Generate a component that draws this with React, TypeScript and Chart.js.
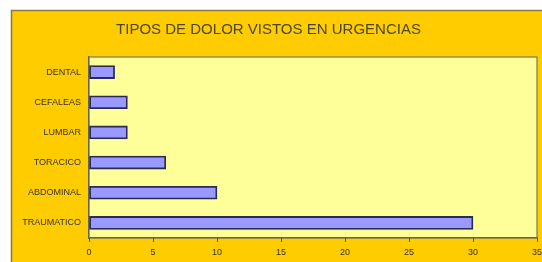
import React, { useEffect, useRef } from "react";
import { Chart, registerables } from "chart.js";

Chart.register(...registerables);

const titleText = "TIPOS DE DOLOR VISTOS EN URGENCIAS";
const categories = ["DENTAL", "CEFALEAS", "LUMBAR", "TORACICO", "ABDOMINAL", "TRAUMATICO"];
const values = [2, 3, 3, 6, 10, 30];
const xMax = 35;
const xStep = 5;

const backgroundPlugin = {
  id: "bgFrame",
  beforeDraw(chart: any) {
    const { ctx, width, height, chartArea } = chart;
    ctx.save();
    ctx.fillStyle = "#ffffff";
    ctx.fillRect(0, 0, width, height);
    ctx.fillStyle = "#FFCC00";
    ctx.fillRect(11, 10, width - 11, height - 10);
    ctx.strokeStyle = "#8a7a40";
    ctx.lineWidth = 1.5;
    ctx.strokeRect(11.5, 10.5, width + 5, height + 5);
    ctx.fillStyle = "#FFFF99";
    ctx.fillRect(chartArea.left, chartArea.top, chartArea.right - chartArea.left, chartArea.bottom - chartArea.top);
    ctx.strokeStyle = "#7a7a5a";
    ctx.lineWidth = 1.2;
    ctx.strokeRect(chartArea.left, chartArea.top, chartArea.right - chartArea.left, chartArea.bottom - chartArea.top);
    ctx.restore();
  },
};

export default function App() {
  const ref = useRef<HTMLCanvasElement | null>(null);
  useEffect(() => {
    document.body.style.margin = "0";
    const chart = new Chart(ref.current as HTMLCanvasElement, {
      type: "bar",
      data: {
        labels: categories,
        datasets: [
          {
            data: values,
            backgroundColor: "#9999FF",
            borderColor: "#2a2a55",
            borderWidth: 1.8,
            borderSkipped: false,
            barThickness: 13,
          },
        ],
      },
      options: {
        indexAxis: "y",
        animation: false,
        responsive: false,
        layout: { padding: { left: 0, right: 5, top: 0, bottom: 0 } },
        plugins: {
          legend: { display: false },
          tooltip: { enabled: false },
          title: {
            display: true,
            text: titleText,
            color: "#4a4630",
            font: { family: "Liberation Sans, Arial, sans-serif", size: 15, weight: "normal" },
            padding: { top: 21, bottom: 18 },
          },
        },
        scales: {
          x: {
            min: 0,
            max: xMax,
            ticks: {
              stepSize: xStep,
              color: "#333333",
              font: { family: "Liberation Sans, Arial, sans-serif", size: 9 },
              padding: 5,
            },
            grid: { drawOnChartArea: false, drawTicks: true, tickLength: 4, color: "#555555" },
            border: { display: true, color: "#666655", width: 1.2 },
            afterFit(scale: any) {
              scale.height = 24;
              scale.paddingRight = 0;
            },
          },
          y: {
            ticks: {
              color: "#333333",
              font: { family: "Liberation Sans, Arial, sans-serif", size: 9 },
              padding: 8,
            },
            grid: { display: false, drawTicks: false },
            border: { display: true, color: "#666655", width: 1.2 },
            afterFit(scale: any) {
              scale.width = 89;
            },
          },
        },
      },
      plugins: [backgroundPlugin],
    });
    return () => chart.destroy();
  }, []);
  return <canvas ref={ref} width={542} height={262} style={{ display: "block" }} />;
}
